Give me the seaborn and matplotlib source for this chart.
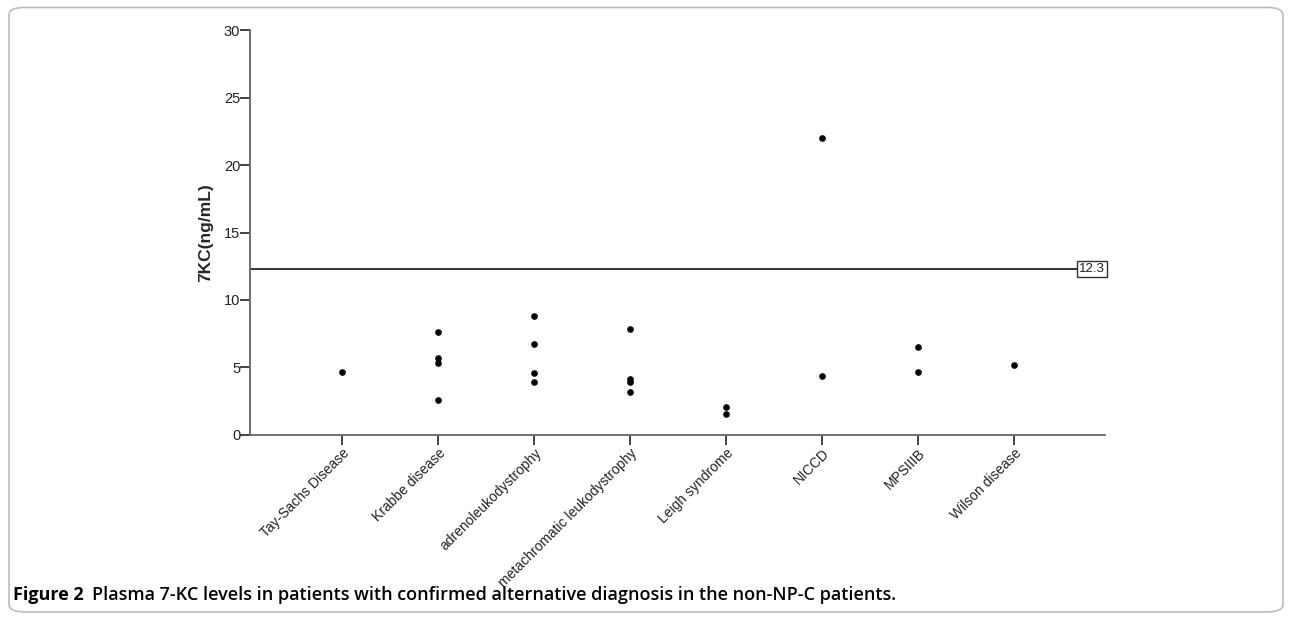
import pandas as pd
import matplotlib.pyplot as plt
import matplotlib.transforms as mtransforms
from matplotlib.patches import FancyBboxPatch
import seaborn as sns

# Diagnoses and 7KC values
diagnoses = ["Tay-Sachs Disease", "Krabbe disease", "adrenoleukodystrophy",
             "metachromatic leukodystrophy", "Leigh syndrome", "NICCD",
             "MPSIIIB", "Wilson disease"]
tay_sachs = [4.7]
krabbe = [7.6, 5.7, 5.3, 2.6]
adreno = [8.8, 6.75, 4.6, 3.9]
metachromatic = [7.85, 4.15, 3.9, 3.2]
leigh = [2.1, 1.55]
niccd = [22.0, 4.4]
mps = [6.5, 4.7]
wilson = [5.2]
cutoff = 12.3

groups = [tay_sachs, krabbe, adreno, metachromatic, leigh, niccd, mps, wilson]
rows = [(d, v) for d, vals in zip(diagnoses, groups) for v in vals]
df = pd.DataFrame(rows, columns=["Diagnosis", "7KC"])

sns.set_style("white")
plt.rcParams["font.family"] = ["Liberation Sans", "DejaVu Sans"]

fig = plt.figure(figsize=(12.92, 6.2), dpi=100)
ax = fig.add_axes([0.1935, 0.2984, 0.6618, 0.6532])

sns.stripplot(x="Diagnosis", y="7KC", data=df, order=diagnoses, jitter=False,
              color="black", size=4.8, linewidth=0, ax=ax)

ax.axhline(cutoff, color="#333333", lw=1.4, xmax=0.968, zorder=1)
trans = mtransforms.blended_transform_factory(ax.transAxes, ax.transData)
ax.text(0.9995, cutoff, "12.3", transform=trans, ha="right", va="center",
        fontsize=9.5, color="#222222",
        bbox=dict(boxstyle="square,pad=0.15", fc="white", ec="#333333", lw=1))

ax.set_ylim(0, 30)
ax.set_xlim(-0.96, 7.95)
ax.set_yticks([0, 5, 10, 15, 20, 25, 30])
ax.set_xlabel("")
ax.set_ylabel("7KC(ng/mL)", fontsize=12.5, fontweight="bold", labelpad=8)

for side in ["top", "right"]:
    ax.spines[side].set_visible(False)
for side in ["left", "bottom"]:
    ax.spines[side].set_color("#666666")
    ax.spines[side].set_linewidth(1.3)

ax.tick_params(axis="both", direction="out", length=7, width=1.3,
               bottom=True, left=True,
               color="#333333", labelsize=10, labelcolor="#222222", pad=1)
ax.tick_params(axis="y", length=7, pad=0, labelsize=10.5)
plt.setp(ax.get_xticklabels(), rotation=45, ha="right", rotation_mode="anchor")

# rounded frame around the figure
frame = FancyBboxPatch((0.007, 0.013), 0.986, 0.975, transform=fig.transFigure,
                       boxstyle="round,pad=0,rounding_size=0.012",
                       fc="none", ec="#bbbbbb", lw=1.2)
fig.patches.append(frame)

fig.text(0.010, 0.04, "Figure 2", fontsize=13, fontweight="bold",
         family=["Open Sans", "DejaVu Sans"], ha="left", va="center", color="black")
fig.text(0.071, 0.04,
         "Plasma 7-KC levels in patients with confirmed alternative diagnosis in the non-NP-C patients.",
         fontsize=13, fontweight="semibold", family=["Open Sans", "DejaVu Sans"],
         ha="left", va="center", color="black")

plt.savefig("out.png", dpi=100)
plt.close()
